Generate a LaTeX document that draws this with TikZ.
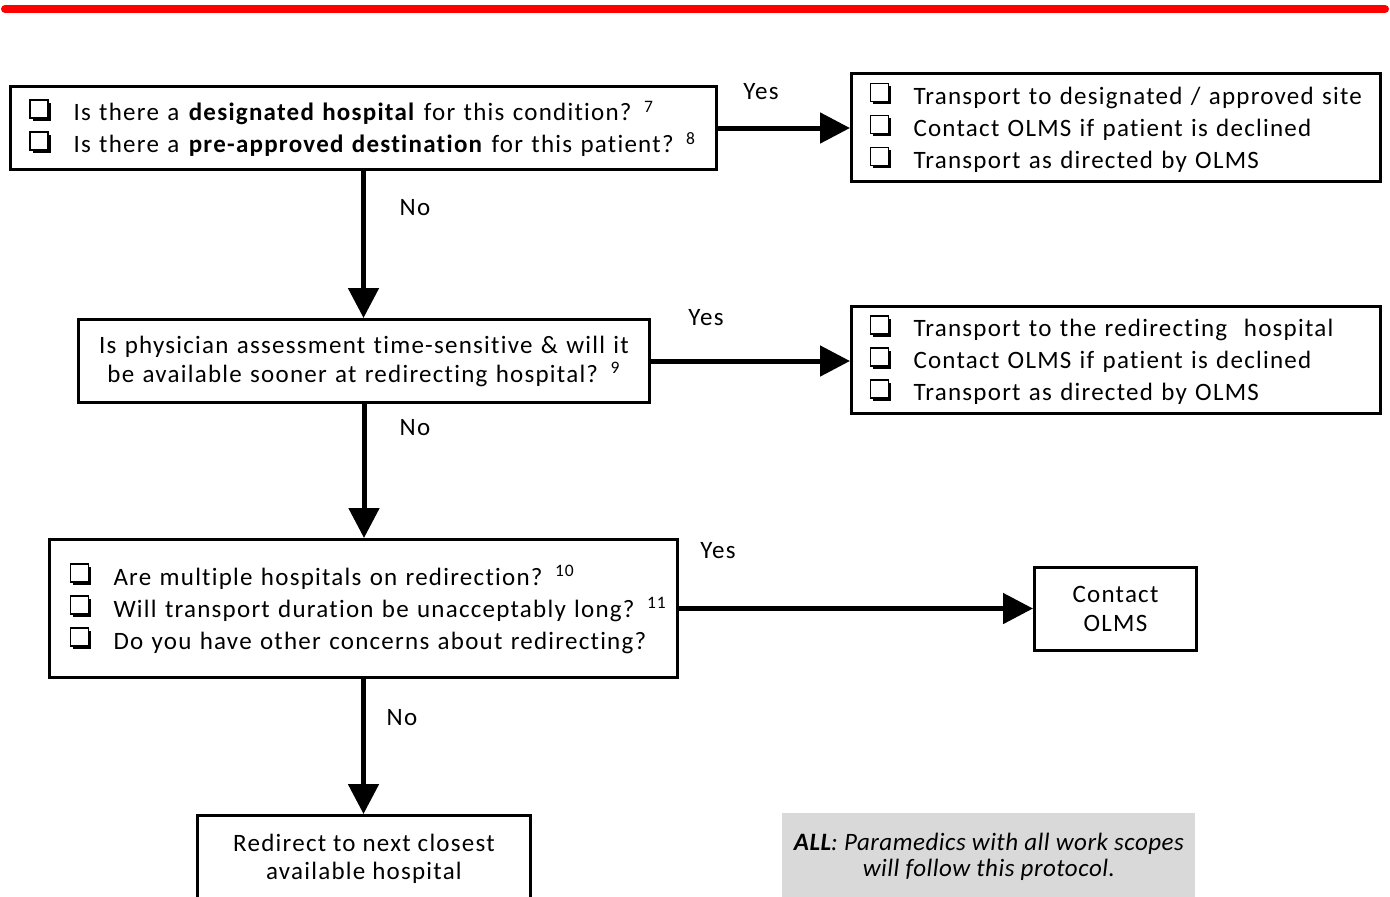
\documentclass[tikz,border=0pt]{standalone}
\usepackage{fontspec}
\setmainfont{Carlito}[LetterSpace=5, Ligatures=CommonOff]
\usetikzlibrary{positioning,arrows.meta}
% shadowed check box
\newcommand{\cb}{\makebox[22pt][l]{\tikz[baseline=0pt]{
  \fill [black] (1.5pt,0pt) rectangle (10.5pt,9pt);
  \draw [line width=0.8pt, fill=white] (0pt,1.5pt) rectangle (9pt,10.5pt);}}}
\tikzset{
  every node/.style={
    inner sep=0pt,
    font=\fontsize{12.5}{16}\selectfont
  },
  box/.style={draw, line width=1.5pt, anchor=north west},
  flow/.style={line width=2.5pt, -{Triangle[length=15pt,width=15pt]}}
}

\begin{document}
\begin{tikzpicture}[x=0.5pt,y=-0.5pt]
    \useasboundingbox (0,0) rectangle (1390,896);
    \clip (0,0) rectangle (1390,896);
    \draw [red, line width=4pt, line cap=round] (5,9) -- (1385,9);
    % questions
    \node [box, minimum width=353pt, minimum height=41.5pt, text width=334pt, align=left] (q1) at (9,85)
      {\cb Is there a \textbf{designated hospital} for this condition? \textsuperscript{7}\\
       \cb Is there a \textbf{pre-approved destination} for this patient? \textsuperscript{8}};
    \node [box, minimum width=285.5pt, minimum height=41.5pt, text width=270pt, align=center,
      font=\fontsize{12.5}{14.5}\selectfont] (q2) at (77,318)
      {Is physician assessment time-sensitive \& will it\\
       be available sooner at redirecting hospital? \textsuperscript{9}};
    \node [box, minimum width=314pt, minimum height=69pt, text width=294pt, align=left] (q3) at (48,538)
      {\mbox{\cb Are multiple hospitals on redirection? \textsuperscript{10}}\\
       \mbox{\cb Will transport duration be unacceptably long? \textsuperscript{11}}\\
       \mbox{\cb Do you have other concerns about redirecting?}};
    \node [box, minimum width=166.5pt, minimum height=43pt, align=center,
      font=\fontsize{12.5}{14}\selectfont] (redirect) at (196,814)
      {Redirect to next closest\\ available hospital};
    % answers
    \node [box, minimum width=264.5pt, minimum height=54pt, text width=246.5pt, align=left] (a1) at (850,72)
      {\cb Transport to designated / approved site\\
       \cb Contact OLMS if patient is declined\\
       \cb Transport as directed by OLMS};
    \node [box, minimum width=264.5pt, minimum height=53.5pt, text width=246.5pt, align=left] (a2) at (850,305)
      {\cb Transport to the redirecting\ \ hospital\\
       \cb Contact OLMS if patient is declined\\
       \cb Transport as directed by OLMS};
    \node [box, minimum width=81pt, minimum height=41.5pt, align=center,
      font=\fontsize{12.5}{14.5}\selectfont] (olms) at (1033,566)
      {Contact\\ OLMS};
    \node [anchor=north west, fill=black!15, minimum width=206.5pt, minimum height=43.5pt, align=center,
      font=\fontsize{12.5}{13}\selectfont\itshape\addfontfeatures{LetterSpace=2}] (scope) at (782,813)
      {\textbf{ALL}: Paramedics with all work scopes\\ will follow this protocol.};
    % connectors
    \draw [flow] (q1.east) -- (q1.east -| a1.west);
    \draw [flow] (q2.east) -- (q2.east -| a2.west);
    \draw [flow] (q3.east) -- (q3.east -| olms.west);
    \draw [flow] (q1.south) -- (q1.south |- q2.north);
    \draw [flow] (q2.south) -- (q2.south |- q3.north);
    \draw [flow] (q3.south) -- (q3.south |- redirect.north);
    % labels
    \node (yes1) at (761,92) {Yes};
    \node (yes2) at (706,318) {Yes};
    \node (yes3) at (718,551) {Yes};
    \node (no1) at (415,208) {No};
    \node (no2) at (415,428) {No};
    \node (no3) at (402,718) {No};
\end{tikzpicture}
\end{document}
